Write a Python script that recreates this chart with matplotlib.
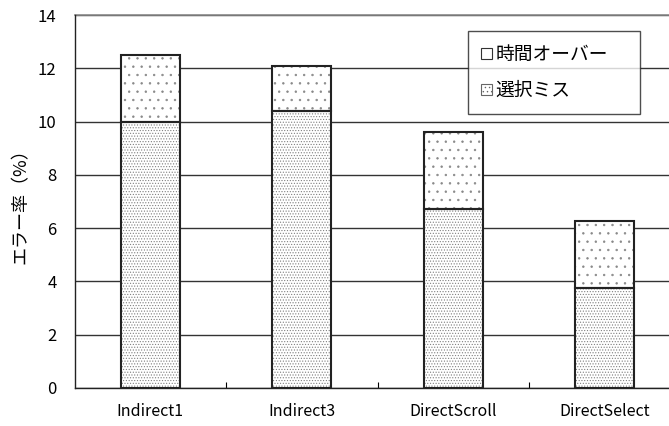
import matplotlib
matplotlib.use("Agg")
import matplotlib.pyplot as plt
from matplotlib.patches import Patch
import numpy as np

plt.rcParams['font.family'] = ['Noto Sans CJK JP', 'DejaVu Sans']
plt.rcParams['hatch.linewidth'] = 0.5

categories = ["Indirect1", "Indirect3", "DirectScroll", "DirectSelect"]
selection_miss = [10.0, 10.4, 6.7, 3.75]
timeout = [2.5, 1.7, 2.9, 2.5]
yticks = [0, 2, 4, 6, 8, 10, 12, 14]

fig = plt.figure(figsize=(6.69, 4.26), dpi=100)
W, H = 669, 426
left, right, top, bottom = 74.5, 680.5, 15, 388
ax = fig.add_axes([left / W, 1 - bottom / H, (right - left) / W, (bottom - top) / H])

x = np.arange(len(categories))
width = 0.39

# hatch layers
ax.bar(x, selection_miss, width, color='white', edgecolor='#808080', hatch='......', linewidth=0, zorder=3)
ax.bar(x, timeout, width, bottom=selection_miss, color='white', edgecolor='#888888', hatch='..', linewidth=0, zorder=3)
# outlines
ax.bar(x, selection_miss, width, fill=False, edgecolor='#222222', linewidth=1.5, zorder=4)
ax.bar(x, timeout, width, bottom=selection_miss, fill=False, edgecolor='#222222', linewidth=1.5, zorder=4)

ax.set_xlim(-0.5, len(categories) - 0.5)
ax.set_ylim(0, 14)
ax.set_yticks(yticks)
ax.set_yticklabels([str(v) for v in yticks], fontsize=12)
ax.tick_params(axis='y', length=0, pad=13)
ax.set_xticks(x)
ax.set_xticklabels(categories, fontsize=11.5)
ax.tick_params(axis='x', length=0, pad=11)
ax.set_xticks(x[:-1] + 0.5, minor=True)
ax.tick_params(axis='x', which='minor', direction='in', length=4, width=0.8)

ax.yaxis.grid(True, color='#333333', linewidth=1.0, zorder=1)
ax.set_axisbelow(True)
for s in ['top', 'right']:
    ax.spines[s].set_visible(False)
ax.spines['left'].set_color('#222222')
ax.spines['bottom'].set_color('#222222')
ax.spines['left'].set_linewidth(1.0)
ax.spines['bottom'].set_linewidth(1.0)
ax.axhline(14, color='#888888', linewidth=1.2, zorder=1, clip_on=False)

ax.set_ylabel("エラー率（%）", fontsize=13, labelpad=6)

handles = [
    Patch(facecolor='white', edgecolor='#333333', linewidth=0.8, label='時間オーバー'),
    Patch(facecolor='white', edgecolor='#666666', linewidth=0.8, hatch='....', label='選択ミス'),
]
bx0 = (468 - left) / (right - left)
bw = (640 - 468) / (right - left)
by1 = 1 - (31 - top) / (bottom - top)
bh = (115 - 31) / (bottom - top)
leg = ax.legend(handles=handles, loc='upper left', bbox_to_anchor=(bx0, by1 - bh, bw, bh), mode='expand',
                fontsize=13.5, frameon=True, fancybox=False, handlelength=0.6, handleheight=0.6,
                handletextpad=0.15, labelspacing=0.8, borderpad=0.7, borderaxespad=0)
leg.get_frame().set_edgecolor('#222222')
leg.get_frame().set_linewidth(1.0)
leg.set_zorder(5)

fig.savefig("out.png", dpi=100)
